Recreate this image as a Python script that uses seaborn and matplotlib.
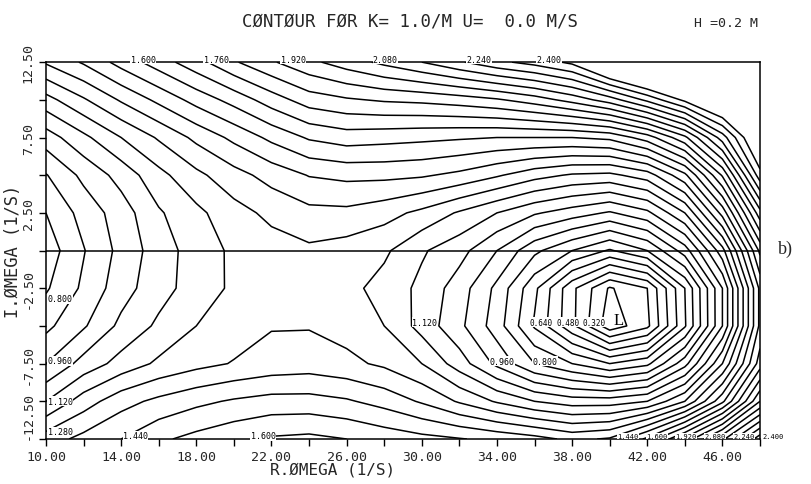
import numpy as np
import matplotlib
matplotlib.use("Agg")
import matplotlib.pyplot as plt
import seaborn as sns

# ---- data: grid of the contoured quantity ----
r_omega = [10, 12, 14, 16, 18, 20, 22, 24, 26, 28, 30, 32, 34, 36, 38, 40, 42, 44, 46, 48]
i_omega = [12.5, 10.0, 7.5, 5.0, 2.5, 0.0, -2.5, -5.0, -7.5, -10.0, -12.5]

row_p12_5 = [1.37, 1.45, 1.55, 1.64, 1.73, 1.83, 1.91, 1.98, 2.04, 2.10, 2.16, 2.23, 2.30, 2.35, 2.42, 2.62, 2.75, 2.85, 2.92, 3.00]
row_p10_0 = [1.17, 1.27, 1.37, 1.46, 1.55, 1.63, 1.72, 1.80, 1.83, 1.85, 1.86, 1.88, 1.91, 1.96, 2.03, 2.12, 2.26, 2.42, 2.58, 2.74]
row_p7_5 = [1.00, 1.10, 1.20, 1.29, 1.38, 1.46, 1.54, 1.61, 1.64, 1.63, 1.62, 1.61, 1.60, 1.60, 1.60, 1.62, 1.72, 1.90, 2.20, 2.55]
row_p5_0 = [0.875, 0.98, 1.07, 1.175, 1.26, 1.33, 1.39, 1.444, 1.46, 1.46, 1.45, 1.42, 1.37, 1.31, 1.27, 1.26, 1.32, 1.50, 1.85, 2.37]
row_p2_5 = [0.80, 0.91, 1.00, 1.11, 1.18, 1.25, 1.30, 1.337, 1.34, 1.31, 1.26, 1.19, 1.12, 1.05, 1.00, 0.95, 1.02, 1.20, 1.55, 2.05]
row_0_0 = [0.755, 0.875, 0.985, 1.08, 1.157, 1.215, 1.245, 1.265, 1.245, 1.215, 1.13, 1.07, 0.96, 0.82, 0.72, 0.63, 0.72, 0.92, 1.25, 1.78]
row_m2_5 = [0.79, 0.895, 1.005, 1.09, 1.155, 1.215, 1.24, 1.245, 1.225, 1.17, 1.10, 1.00, 0.86, 0.66, 0.42, 0.23, 0.32, 0.64, 1.04, 1.62]
row_m5_0 = [0.86, 0.95, 1.06, 1.135, 1.20, 1.24, 1.275, 1.275, 1.25, 1.20, 1.09, 0.98, 0.84, 0.63, 0.42, 0.19, 0.30, 0.63, 1.04, 1.62]
row_m7_5 = [0.96, 1.07, 1.15, 1.215, 1.255, 1.285, 1.31, 1.32, 1.30, 1.265, 1.20, 1.08, 0.94, 0.80, 0.72, 0.64, 0.70, 0.93, 1.28, 1.72]
row_m10_0 = [1.12, 1.24, 1.33, 1.38, 1.42, 1.45, 1.47, 1.47, 1.45, 1.41, 1.35, 1.27, 1.19, 1.12, 1.08, 1.08, 1.12, 1.28, 1.58, 2.00]
row_m12_5 = [1.32, 1.385, 1.44, 1.505, 1.545, 1.58, 1.61, 1.62, 1.60, 1.57, 1.545, 1.525, 1.50, 1.47, 1.42, 1.45, 1.62, 1.86, 2.14, 2.45]

level_min, level_max, level_step = 0.24, 2.40, 0.08

x_ticks = [10, 12, 14, 16, 18, 20, 22, 24, 26, 28, 30, 32, 34, 36, 38, 40, 42, 44, 46, 48]
x_labelled = [10, 14, 18, 22, 26, 30, 34, 38, 42, 46]
y_ticks = [12.5, 10, 7.5, 5, 2.5, 0, -2.5, -5, -7.5, -10, -12.5]
y_labelled = [12.5, 7.5, 2.5, -2.5, -7.5, -12.5]

# contour labels as printed on the plot
label_values = [0.80, 0.96, 1.12, 1.28,
                1.60, 1.76, 1.92, 2.08, 2.24, 2.40,
                1.44, 1.60,
                1.12, 0.96, 0.80]
label_x = [10.1, 10.1, 10.1, 10.1,
           14.5, 18.4, 22.5, 27.4, 32.4, 36.1,
           14.1, 20.9,
           29.5, 33.6, 35.9]
label_y = [-3.2, -7.3, -10.0, -12.0,
           12.7, 12.7, 12.7, 12.7, 12.7, 12.7,
           -12.3, -12.3,
           -4.75, -7.35, -7.35]
# labels crowded next to the low
inner_values = [0.64, 0.48, 0.32]
inner_x = [35.75, 37.15, 38.55]
inner_y = -4.75
# crowded labels in the lower right corner
corner_values = [1.44, 1.60, 1.92, 2.08, 2.24, 2.40]
corner_x = [40.4, 41.95, 43.5, 45.05, 46.6, 48.15]
corner_y = -12.3

# ---- style ----
sns.set_theme(style="ticks")
plt.rcParams['font.family'] = ['DejaVu Sans Mono', 'DejaVu Sans']
mono = 'DejaVu Sans Mono'

Z = np.array([row_p12_5, row_p10_0, row_p7_5, row_p5_0, row_p2_5, row_0_0,
              row_m2_5, row_m5_0, row_m7_5, row_m10_0, row_m12_5])
X, Y = np.meshgrid(r_omega, i_omega)
levels = np.round(np.arange(level_min, level_max + 1e-6, level_step), 2)

fig = plt.figure(figsize=(8.11, 4.85), dpi=100)
fig.patch.set_facecolor('white')
ax = fig.add_axes([0.0567, 0.0928, 0.8804, 0.777])
ax.set_facecolor('white')

cs = ax.contour(X, Y, Z, levels=levels, colors='black', linewidths=1.1)
ax.axhline(0, color='black', lw=1.1)

box = dict(boxstyle='square,pad=0.05', fc='white', ec='none')
for v, lx, ly in zip(label_values, label_x, label_y):
    ax.text(lx, ly, f"{v:.3f}", family=mono, fontsize=6, ha='left', va='center',
            color='black', zorder=5, clip_on=False, bbox=box)
for v, lx in zip(inner_values, inner_x):
    ax.text(lx, inner_y, f"{v:.3f}", family=mono, fontsize=5.5, ha='left', va='center',
            color='black', zorder=5, bbox=box)
for v, lx in zip(corner_values, corner_x):
    ax.text(lx, corner_y, f"{v:.3f}", family=mono, fontsize=5, ha='left', va='center',
            color='black', zorder=5, clip_on=False, bbox=box)

ax.text(40.45, -4.6, 'L', family='Liberation Serif', fontsize=12,
        ha='center', va='center', color='black', zorder=6)

ax.set_xlim(10, 48)
ax.set_ylim(-12.5, 12.5)
ax.set_xticks(x_ticks)
ax.set_xticklabels([f"{v:.2f}" if v in x_labelled else "" for v in x_ticks],
                   family=mono, fontsize=9.5)
ax.set_yticks(y_ticks)
ax.set_yticklabels([f"{v:.2f}" if v in y_labelled else "" for v in y_ticks],
                   family=mono, fontsize=9.5, rotation=90, va='center')
ax.get_yticklabels()[-1].set_va('bottom')
ax.tick_params(direction='out', length=5, width=1, color='black', pad=3)
for s in ax.spines.values():
    s.set_color('black')
    s.set_linewidth(1.1)

fig.text(0.505, 0.955, "CØNTØUR FØR K= 1.0/M U=  0.0 M/S", family=mono,
         fontsize=12.5, ha='center', va='center')
fig.text(0.895, 0.952, "H =0.2 M", family=mono, fontsize=9.5, ha='center', va='center')
fig.text(0.41, 0.03, "R.ØMEGA (1/S)", family=mono, fontsize=11.5, ha='center', va='center')
fig.text(0.016, 0.482, "I.ØMEGA (1/S)", family=mono, fontsize=12.3, ha='center',
         va='center', rotation=90)
fig.text(0.968, 0.485, "b)", family='Liberation Serif', fontsize=13, ha='center', va='center')

fig.savefig('out.png', dpi=100, facecolor='white')
